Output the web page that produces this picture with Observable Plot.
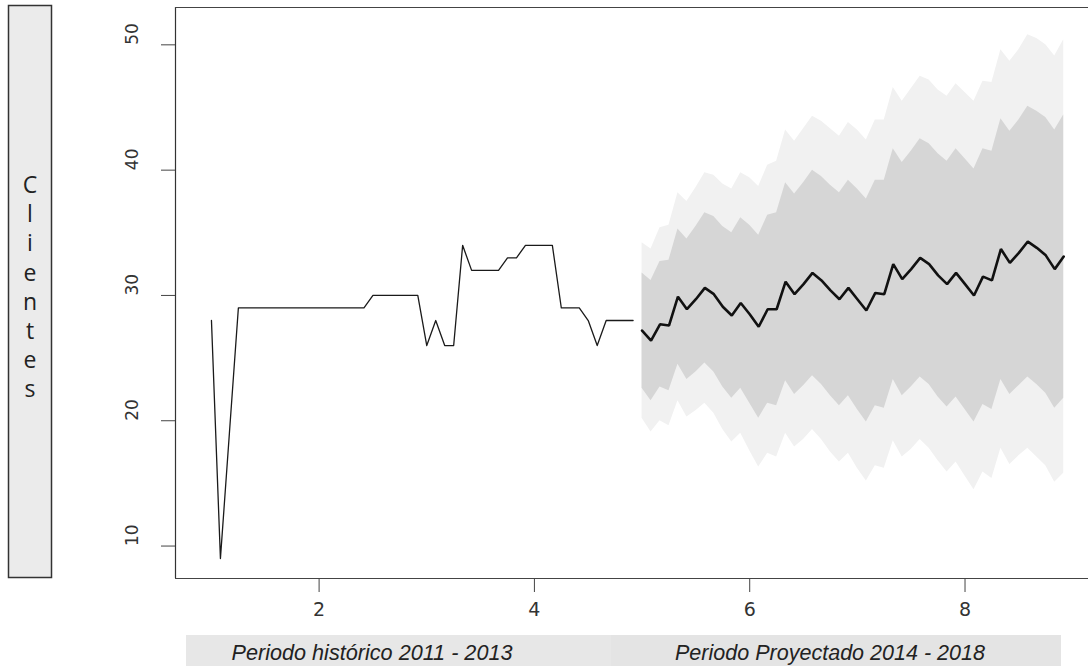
<!DOCTYPE html>
<html><head><meta charset="utf-8">
<script src="https://cdn.jsdelivr.net/npm/d3@7"></script>
<script src="https://cdn.jsdelivr.net/npm/@observablehq/plot@0.6"></script>
<style>body{margin:0;background:#fff;overflow:hidden}</style>
</head><body><div id="chart"></div>
<script>
// Time series settings (monthly, frequency 12)
const histStart = 1, fcStart = 5, freq = 12;

// Historical series
const historico = [28, 9, 19,
  29,29,29,29,29,29,29,29,29,29,29,29,29,29,29,
  30,30,30,30,30,30,
  26,28,26,26,
  34,
  32,32,32,32,
  33,33,
  34,34,34,34,
  29,29,29,
  28,26,
  28,28,28,28];

// Point forecast
const pronostico = [27.2,26.4,27.7,27.6,29.9,28.9,29.7,30.6,30.1,29.1,28.4,29.4,
  28.5,27.5,28.9,28.9,31.1,30.1,30.9,31.8,31.2,30.4,29.7,30.6,
  29.7,28.8,30.2,30.1,32.5,31.3,32.1,33.0,32.5,31.6,30.9,31.8,
  30.9,30.0,31.5,31.2,33.7,32.6,33.4,34.3,33.8,33.2,32.1,33.1];

// 80% interval
const sup80 = [31.8,31.2,32.7,32.8,35.3,34.5,35.5,36.6,36.3,35.5,35.0,36.2,
  35.6,34.8,36.4,36.6,39.0,38.1,39.0,40.0,39.5,38.8,38.2,39.2,
  38.5,37.7,39.2,39.2,41.7,40.6,41.5,42.5,42.1,41.3,40.7,41.7,
  40.9,40.1,41.7,41.5,44.1,43.1,44.0,45.1,44.7,44.2,43.2,44.4];
const inf80 = [22.6,21.6,22.7,22.4,24.5,23.3,23.9,24.6,23.9,22.7,21.8,22.6,
  21.4,20.2,21.4,21.2,23.2,22.1,22.8,23.6,22.9,22.0,21.2,22.0,
  20.9,19.9,21.2,21.0,23.3,22.0,22.7,23.5,22.9,21.9,21.1,21.9,
  20.9,19.9,21.3,20.9,23.3,22.1,22.8,23.5,22.9,22.2,21.0,21.8];

// 95% interval
const sup95 = [34.2,33.7,35.4,35.6,38.2,37.5,38.6,39.8,39.6,38.9,38.5,39.8,
  39.4,38.7,40.4,40.7,43.2,42.3,43.3,44.3,43.9,43.3,42.7,43.8,
  43.2,42.4,44.0,44.0,46.6,45.5,46.5,47.5,47.2,46.4,45.9,46.9,
  46.2,45.5,47.1,47.0,49.6,48.7,49.6,50.8,50.5,50.0,49.1,50.4];
const inf95 = [20.2,19.1,20.0,19.6,21.6,20.3,20.8,21.4,20.6,19.3,18.3,19.0,
  17.6,16.3,17.4,17.1,19.0,17.9,18.5,19.3,18.5,17.5,16.7,17.4,
  16.2,15.2,16.4,16.2,18.4,17.1,17.7,18.5,17.8,16.8,15.9,16.7,
  15.6,14.5,15.9,15.4,17.8,16.5,17.2,17.8,17.1,16.4,15.1,15.8];

// Ticks and labels
const xTicks = [2, 4, 6, 8];
const yTicks = [10, 20, 30, 40, 50];
const yLabel = "Clientes";
const periodLabels = ["Periodo histórico 2011 - 2013", "Periodo Proyectado 2014 - 2018"];

const hist = historico.map((v, i) => ({t: histStart + i / freq, v}));
const fc = pronostico.map((v, i) => ({t: fcStart + i / freq, v,
  lo80: inf80[i], hi80: sup80[i], lo95: inf95[i], hi95: sup95[i]}));

const xDomain = [0.666, 9.147];
const yDomain = [7.41, 52.98];
const tickFont = "'DejaVu Sans', sans-serif";

const chart = Plot.plot({
  width: 1088, height: 666,
  marginLeft: 175, marginRight: 0, marginTop: 7, marginBottom: 88,
  x: {domain: xDomain},
  y: {domain: yDomain},
  style: {fontFamily: tickFont, background: "#fff", color: "#333"},
  marks: [
    Plot.areaY(fc, {x: "t", y1: "lo95", y2: "hi95", fill: "#f1f1f1"}),
    Plot.areaY(fc, {x: "t", y1: "lo80", y2: "hi80", fill: "#d6d6d6"}),
    Plot.lineY(hist, {x: "t", y: "v", stroke: "#1a1a1a", strokeWidth: 1.3}),
    Plot.lineY(fc, {x: "t", y: "v", stroke: "#111", strokeWidth: 2.6, strokeLinejoin: "miter"}),
    Plot.ruleX([xDomain[0]], {stroke: "#333", strokeWidth: 1.2}),
    Plot.ruleY(yDomain, {stroke: "#444", strokeWidth: 1.2}),
    Plot.axisX({ticks: xTicks, tickSize: 14, tickFormat: () => "", label: null, stroke: "#444"}),
    Plot.axisY({ticks: yTicks, tickSize: 14, tickFormat: () => "", label: null, stroke: "#444"}),
    Plot.text(xTicks, {x: d => d, frameAnchor: "bottom", dy: 37, text: d => String(d),
      fontSize: 19, fontFamily: tickFont, fill: "#333", className: "xlab"}),
    Plot.text(yTicks, {y: d => d, frameAnchor: "left", dx: -43, rotate: -90, text: d => String(d),
      fontSize: 17, fontFamily: tickFont, fill: "#333", className: "ylab"})
  ]
});
document.getElementById("chart").appendChild(chart);
// make sure the tick label sizes apply
d3.select(chart).selectAll(".xlab text").attr("font-size", 19);
d3.select(chart).selectAll(".ylab text").attr("font-size", 17);

// Vertical y-axis label box and period captions
const svg = d3.select(chart);
const g = svg.append("g");
g.append("rect").attr("x", 8.5).attr("y", 5.5).attr("width", 43).attr("height", 572)
  .attr("fill", "#ebebeb").attr("stroke", "#333").attr("stroke-width", 1.5);
[...yLabel].forEach((ch, i) => {
  g.append("text").attr("x", 30).attr("y", 193 + i * 29.2)
    .attr("text-anchor", "middle").attr("font-family", "'Open Sans', sans-serif")
    .attr("font-size", 23).attr("fill", "#222").text(ch);
});
const boxes = [{x: 186, w: 425, fill: "#e7e7e7", cx: 372, len: 281},
               {x: 611, w: 450, fill: "#e4e4e4", cx: 830, len: 310}];
boxes.forEach((b, i) => {
  g.append("rect").attr("x", b.x).attr("y", 635).attr("width", b.w).attr("height", 31).attr("fill", b.fill);
  g.append("text").attr("x", b.cx).attr("y", 660).attr("text-anchor", "middle")
    .attr("font-family", "'Liberation Sans', Arial, sans-serif").attr("font-style", "italic")
    .attr("font-size", 22).attr("fill", "#222")
    .attr("textLength", b.len).attr("lengthAdjust", "spacingAndGlyphs").text(periodLabels[i]);
});
</script>
</body></html>
